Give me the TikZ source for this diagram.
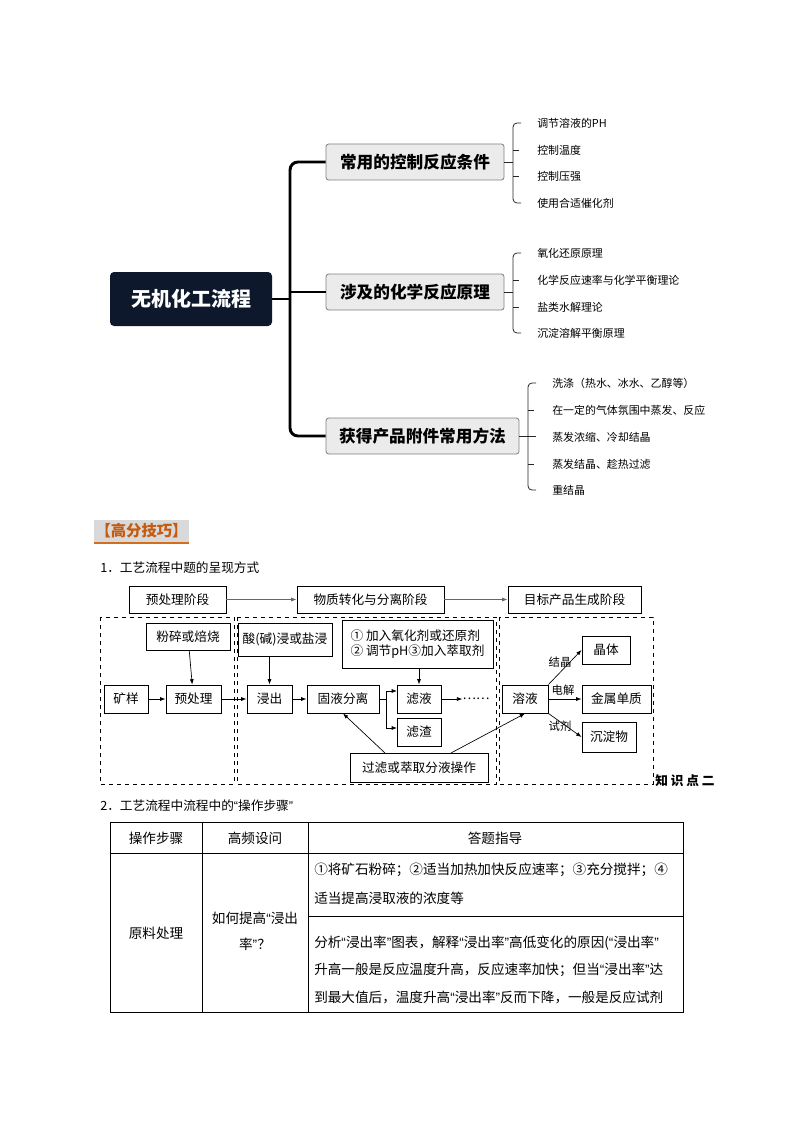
\documentclass[tikz,border=0pt]{standalone}
\usepackage{fontspec}
\setmainfont{Noto Sans CJK SC}
\newfontfamily\qf{Liberation Sans}
\newcommand{\oq}{{\qf “}}
\newcommand{\cq}{{\qf ”}}
\usetikzlibrary{arrows.meta}
\definecolor{navy}{RGB}{14,24,44}
\definecolor{orgtxt}{RGB}{197,90,17}
\definecolor{orgln}{RGB}{210,110,30}
\begin{document}
\begin{tikzpicture}[x=0.75pt,y=-0.75pt,
  leaf/.style={anchor=west,inner sep=0pt,font=\fontsize{8.2}{9}\selectfont},
  br/.style={draw=black!85,line width=0.6pt,rounded corners=3pt},
  mid/.style={draw=black!50,fill=black!8,rounded corners=2pt,line width=0.6pt,font=\bfseries\fontsize{12.5}{14}\selectfont,inner sep=0pt},
  bx/.style={draw,line width=0.7pt,inner sep=0pt,font=\fontsize{9.5}{11}\selectfont},
  ar/.style={-{Latex[length=4pt,width=3pt]},line width=0.5pt},
  zone/.style={draw,dashed,line width=0.6pt},
  tx/.style={font=\fontsize{9.5}{11}\selectfont,inner sep=0pt},
  tt/.style={font=\fontsize{10.2}{12}\selectfont,inner sep=0pt}]
\useasboundingbox (0,0) rectangle (794,1123);
% ---------- mind map ----------
\node[fill=navy,rounded corners=3pt,minimum width=121.5pt,minimum height=40.5pt,text=white,font=\bfseries\fontsize{15}{17}\selectfont] (root) at (191,299) {无机化工流程};
\node[mid,minimum width=133.5pt,minimum height=27pt] (m1) at (415,162) {常用的控制反应条件};
\node[mid,minimum width=133.5pt,minimum height=27pt] (m2) at (415,292) {涉及的化学反应原理};
\node[mid,minimum width=144.75pt,minimum height=27pt] (m3) at (422.5,436) {获得产品附件常用方法};
\coordinate (sp) at (290,299);
\draw[line width=2.2pt] (root.east) -- (sp);
\draw[line width=2.2pt,rounded corners=6pt] (m1.west) -- (290,162) -- (290,436) -- (m3.west);
\draw[line width=2.2pt] (290,292) -- (m2.west);
% group 1
\draw[br] (m1.east) -- (513,162);
\draw[br] (521,123) -- (513,123) -- (513,203) -- (521,203);
\draw[br] (513,150) -- (519,150); \draw[br] (513,176) -- (519,176);
\node[leaf] (l11) at (537,123) {调节溶液的PH};
\node[leaf] (l12) at (537,150) {控制温度};
\node[leaf] (l13) at (537,176) {控制压强};
\node[leaf] (l14) at (537,203) {使用合适催化剂};
% group 2
\draw[br] (m2.east) -- (513,292);
\draw[br] (521,253) -- (513,253) -- (513,333) -- (521,333);
\draw[br] (513,280) -- (519,280); \draw[br] (513,307) -- (519,307);
\node[leaf] (l21) at (537,253) {氧化还原原理};
\node[leaf] (l22) at (537,280) {化学反应速率与化学平衡理论};
\node[leaf] (l23) at (537,307) {盐类水解理论};
\node[leaf] (l24) at (537,333) {沉淀溶解平衡原理};
% group 3
\draw[br] (m3.east) -- (536,436);
\draw[br] (536,383) -- (528,383) -- (528,490) -- (536,490);
\draw[br] (528,410) -- (534,410); \draw[br] (528,464) -- (534,464);
\node[leaf] (l31) at (552,383) {洗涤（热水、冰水、乙醇等）};
\node[leaf] (l32) at (552,410) {在一定的气体氛围中蒸发、反应};
\node[leaf] (l33) at (552,437) {蒸发浓缩、冷却结晶};
\node[leaf] (l34) at (552,464) {蒸发结晶、趁热过滤};
\node[leaf] (l35) at (552,490) {重结晶};
% ---------- heading ----------
\node[fill=black!15,inner sep=1pt,minimum width=62pt,minimum height=17pt,text=orgtxt,font=\bfseries\fontsize{11.5}{13}\selectfont] (hd) at (141.5,531) {【高分技巧】};
\draw[line width=1.6pt,orgln] (hd.south west) -- (hd.south east);
\node[tx,anchor=west] (t1) at (100,568) {1．工艺流程中题的呈现方式};
% ---------- flow ----------
\node[bx,minimum width=72.75pt,minimum height=20.25pt] (s1) at (177.5,599.5) {预处理阶段};
\node[bx,minimum width=110.25pt,minimum height=20.25pt] (s2) at (370.5,599.5) {物质转化与分离阶段};
\node[bx,minimum width=99.75pt,minimum height=20.25pt] (s3) at (574.5,599.5) {目标产品生成阶段};
\draw[ar,black!60] (s1) -- (s2); \draw[ar,black!60] (s2) -- (s3);
\draw[zone] (100,617) rectangle (234,784);
\draw[zone] (237,617) rectangle (496,784);
\draw[zone] (499,617) rectangle (653,784);
\node[bx,minimum width=63pt,minimum height=20.25pt] (fs) at (188,636.5) {粉碎或焙烧};
\node[bx,minimum width=33pt,minimum height=21pt] (ky) at (126,699) {矿样};
\node[bx,minimum width=41.25pt,minimum height=21pt] (ycl) at (193.5,699) {预处理};
\node[bx,minimum width=70.5pt,minimum height=24.75pt] (sj) at (285,639.5) {酸(碱)浸或盐浸};
\node[bx,minimum width=113.25pt,minimum height=36pt,align=left] (jr) at (417.5,644) {① 加入氧化剂或还原剂\\② 调节pH③加入萃取剂};
\node[bx,minimum width=33.75pt,minimum height=21pt] (jc) at (269.5,699) {浸出};
\node[bx,minimum width=54pt,minimum height=21pt] (gy) at (343,699) {固液分离};
\node[bx,minimum width=33pt,minimum height=21pt] (ly) at (419,699) {滤液};
\node[bx,minimum width=33pt,minimum height=21pt] (lz) at (419,732) {滤渣};
\node[tx] (dots) at (476,699) {……};
\node[bx,minimum width=103.5pt,minimum height=21.75pt] (gl) at (419,767.5) {过滤或萃取分液操作};
\node[bx,minimum width=34.5pt,minimum height=21pt] (ry) at (525,699) {溶液};
\node[bx,minimum width=36pt,minimum height=21pt] (jt) at (606,650) {晶体};
\node[bx,minimum width=51.75pt,minimum height=21pt] (js) at (616.5,699) {金属单质};
\node[bx,minimum width=40.5pt,minimum height=22.5pt] (cd) at (609,737) {沉淀物};
\coordinate (bp) at (386,699);
\draw[ar] (fs) -- (ycl);
\draw[ar] (ky) -- (ycl);
\draw[ar] (ycl) -- (jc);
\draw[ar] (269.5,656) -- (jc);
\draw[ar] (jc) -- (gy);
\draw[line width=0.5pt] (gy.east) -- (bp);
\draw[line width=0.5pt] (386,691) -- (386,728);
\draw[ar] (386,691) -- (397,691);
\draw[ar] (386,728) -- (397,728);
\draw[ar] (419,668) -- (ly);
\draw[ar] (ly) -- (dots);
\draw[ar] (385,753) -- (gy.south);
\draw[ar] (451,753) -- (ry.south);
\draw[ar] (ry.north east) -- (jt.west);
\draw[ar] (ry.east) -- (js.west);
\draw[ar] (ry.south east) -- (cd.west);
\node[tx,font=\fontsize{8.5}{10}\selectfont] (l1) at (560,662) {结晶};
\node[tx,font=\fontsize{8.5}{10}\selectfont] (l2) at (563,690) {电解};
\node[tx,font=\fontsize{8.5}{10}\selectfont] (l3) at (560,726) {试剂};
\node[tx,font=\bfseries\fontsize{9.5}{11}\selectfont,anchor=west] (kd) at (655,781) {知 识 点 二};
% ---------- table ----------
\node[tx,anchor=west] (t2) at (100,806) {2．工艺流程中流程中的\oq 操作步骤\cq};
\draw[line width=0.6pt] (110,822) rectangle (683,1012);
\draw[line width=0.6pt] (110,853) -- (683,853);
\draw[line width=0.6pt] (202,822) -- (202,1012);
\draw[line width=0.6pt] (308,822) -- (308,1012);
\draw[line width=0.6pt] (308,916) -- (683,916);
\node[tt] (h1) at (156,838) {操作步骤};
\node[tt] (h2) at (255,838) {高频设问};
\node[tt] (h3) at (495,838) {答题指导};
\node[tt] (c1) at (156,933) {原料处理};
\node[tt] (c2a) at (255,918) {如何提高\oq 浸出};
\node[tt] (c2b) at (255,944) {率\cq？};
\node[tt,anchor=west] (d1) at (314,870) {①将矿石粉碎；②适当加热加快反应速率；③充分搅拌；④};
\node[tt,anchor=west] (d2) at (314,898) {适当提高浸取液的浓度等};
\node[tt,anchor=west] (d3) at (314,943) {分析\oq 浸出率\cq 图表，解释\oq 浸出率\cq 高低变化的原因(\oq 浸出率\cq};
\node[tt,anchor=west] (d4) at (314,970) {升高一般是反应温度升高，反应速率加快；但当\oq 浸出率\cq 达};
\node[tt,anchor=west] (d5) at (314,997) {到最大值后，温度升高\oq 浸出率\cq 反而下降，一般是反应试剂};
\end{tikzpicture}
\end{document}
